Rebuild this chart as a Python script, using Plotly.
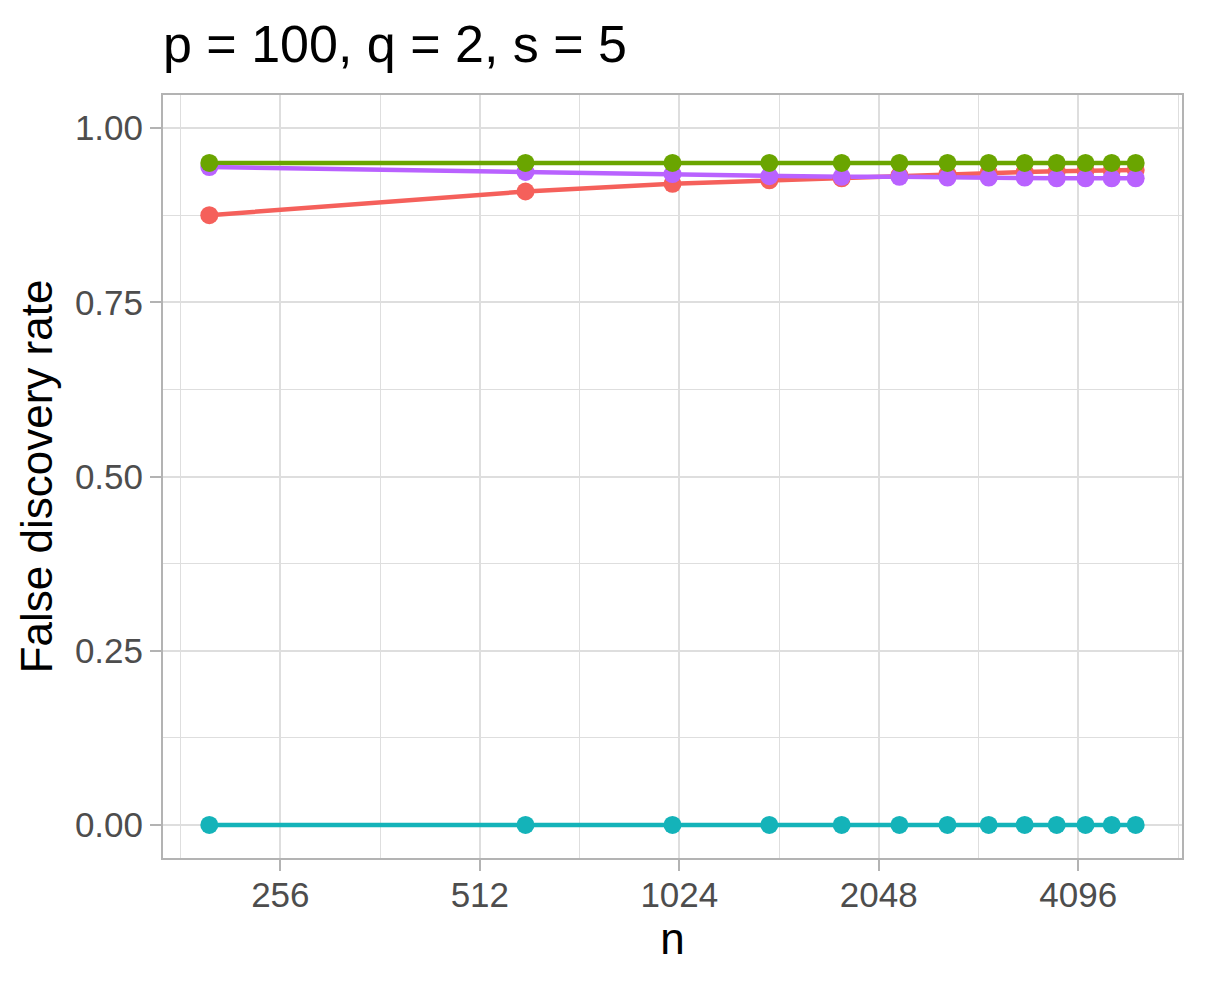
import numpy as np
import plotly.graph_objects as go

# sample sizes (x) and false discovery rate per method
n = [200, 600, 1000, 1400, 1800, 2200, 2600, 3000, 3400, 3800, 4200, 4600, 5000]
fdr_red = [0.875, 0.909, 0.920, 0.925, 0.928, 0.932, 0.934, 0.936, 0.937, 0.938, 0.939, 0.939, 0.940]
fdr_green = [0.950, 0.950, 0.950, 0.950, 0.950, 0.950, 0.950, 0.950, 0.950, 0.950, 0.950, 0.950, 0.950]
fdr_cyan = [0.0, 0.0, 0.0, 0.0, 0.0, 0.0, 0.0, 0.0, 0.0, 0.0, 0.0, 0.0, 0.0]
fdr_purple = [0.944, 0.937, 0.934, 0.931, 0.930, 0.930, 0.929, 0.929, 0.929, 0.928, 0.928, 0.928, 0.928]

x_ticks = [256, 512, 1024, 2048, 4096]
y_ticks = [0, 0.25, 0.5, 0.75, 1.0]
y_labels = ['0.00', '0.25', '0.50', '0.75', '1.00']

series = [
    ('red', fdr_red, '#F5605B'),
    ('green', fdr_green, '#6AA500'),
    ('cyan', fdr_cyan, '#14B3B9'),
    ('purple', fdr_purple, '#B962FF'),
]

fig = go.Figure()

# lines first, points on top (like ggplot's geom_line + geom_point)
for name, vals, col in series:
    fig.add_trace(go.Scatter(x=n, y=vals, mode='lines', name=name,
                             line=dict(color=col, width=4.5), showlegend=False,
                             hoverinfo='skip'))

point_order = ['red', 'cyan', 'purple', 'green']
lookup = {s[0]: s for s in series}
for name in point_order:
    _, vals, col = lookup[name]
    fig.add_trace(go.Scatter(x=n, y=vals, mode='markers', name=name,
                             marker=dict(color=col, size=18), showlegend=False))

# ggplot style 5% expansion on the log2 scale
lo, hi = np.log10(min(n)), np.log10(max(n))
pad = 0.05 * (hi - lo)
minor_x = [2 ** (k + 0.5) for k in range(6, 14)]

grid = '#DEDEDE'
border = '#B3B3B3'

# page body has an 8px margin, so the figure is 8px smaller each way
fig.update_layout(
    width=1198, height=979,
    margin=dict(l=155, r=24, t=87, b=129, autoexpand=False),
    paper_bgcolor='white', plot_bgcolor='white',
    font=dict(family='Liberation Sans, Arial, sans-serif', color='black'),
    title=dict(text='p = 100, q = 2, s = 5', font=dict(size=52, color='black'),
               x=0, xref='paper', xanchor='left',
               y=1 - 36 / 979, yref='container', yanchor='middle'),
)

fig.update_xaxes(
    type='log', range=[lo - pad, hi + pad],
    tickvals=x_ticks, ticktext=[str(v) for v in x_ticks],
    tickfont=dict(size=35, color='#4D4D4D'),
    ticks='outside', ticklen=11, tickwidth=2, tickcolor=border,
    ticklabelstandoff=-6,
    showgrid=True, gridcolor=grid, gridwidth=2,
    minor=dict(tickvals=minor_x, showgrid=True, gridcolor=grid, gridwidth=1, ticks=''),
    showline=True, linecolor=border, linewidth=2, mirror=True,
    zeroline=False,
    title=dict(text='n', font=dict(size=44, color='black'), standoff=10),
)

fig.update_yaxes(
    range=[-0.0475, 1.0475],
    tickvals=y_ticks, ticktext=y_labels,
    tickfont=dict(size=35, color='#4D4D4D'),
    ticks='outside', ticklen=11, tickwidth=2, tickcolor=border,
    showgrid=True, gridcolor=grid, gridwidth=2,
    minor=dict(tickvals=[0.125, 0.375, 0.625, 0.875], showgrid=True,
               gridcolor=grid, gridwidth=1, ticks=''),
    showline=True, linecolor=border, linewidth=2, mirror=True,
    zeroline=False,
    title=dict(text='False discovery rate', font=dict(size=44, color='black'), standoff=8),
)

fig.write_html("out.html")
